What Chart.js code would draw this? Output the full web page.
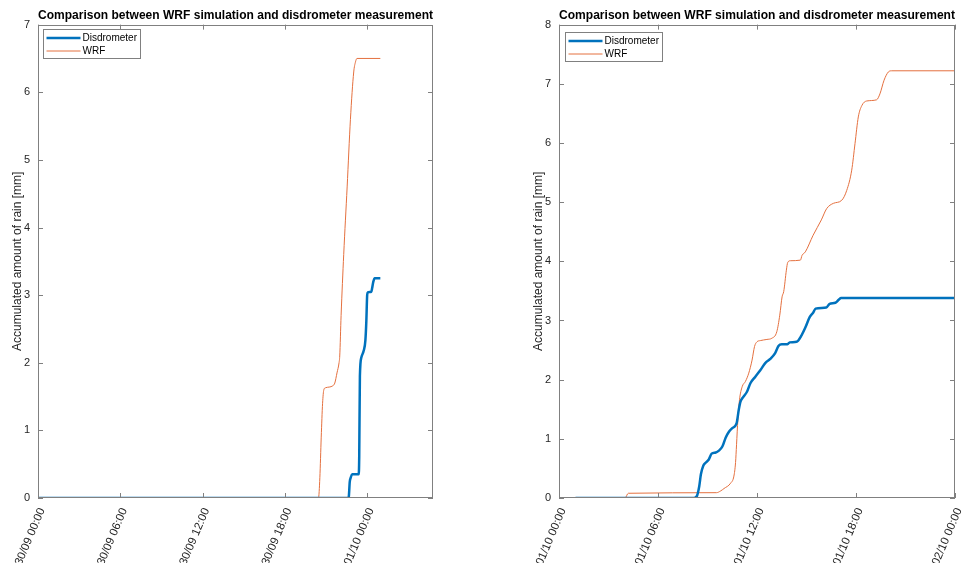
<!DOCTYPE html>
<html>
<head>
<meta charset="utf-8">
<script src="https://cdn.jsdelivr.net/npm/chart.js@4"></script>
<style>
  html, body { margin: 0; padding: 0; background: #fff; }
  body { width: 963px; height: 563px; position: relative; overflow: hidden; }
  canvas { position: absolute; top: 0; }
</style>
</head>
<body>
<canvas id="left" width="480" height="563" style="left:0"></canvas>
<canvas id="right" width="483" height="563" style="left:480px"></canvas>
<script>
// hours since 00:00 of the first day shown, accumulated rain in mm
var leftTickLabels = ["30/09 00:00", "30/09 06:00", "30/09 12:00", "30/09 18:00", "01/10 00:00"];
var rightTickLabels = ["01/10 00:00", "01/10 06:00", "01/10 12:00", "01/10 18:00", "02/10 00:00"];

var leftDisdroHours = [0, 22.6, 22.66, 22.73, 22.8, 22.9, 23.38, 23.42, 23.47, 23.58, 23.75, 23.87, 23.94, 24.0, 24.04, 24.3, 24.36, 24.45, 24.55, 24.96];
var leftDisdroRain = [0, 0, 0.02, 0.24, 0.3, 0.35, 0.35, 0.6, 1.8, 2.08, 2.18, 2.33, 2.62, 3.0, 3.04, 3.05, 3.1, 3.2, 3.25, 3.25];
var leftWrfHours = [0, 20.45, 20.55, 20.65, 20.75, 20.84, 20.96, 21.5, 21.64, 21.8, 21.95, 22.0, 22.1, 22.29, 22.54, 22.78, 23.02, 23.15, 23.26, 24.96];
var leftWrfRain = [0, 0, 0.3, 0.9, 1.4, 1.6, 1.63, 1.66, 1.7, 1.85, 2.0, 2.1, 2.7, 3.6, 4.6, 5.6, 6.3, 6.45, 6.5, 6.5];

var rightDisdroHours = [1.0, 8.15, 8.35, 8.5, 8.6, 8.75, 8.9, 9.08, 9.25, 9.5, 9.69, 9.9, 10.1, 10.3, 10.5, 10.76, 10.9, 11.0, 11.15, 11.4, 11.6, 11.9, 12.2, 12.5, 12.8, 13.1, 13.3, 13.5, 13.85, 13.98, 14.4, 14.7, 14.93, 15.2, 15.4, 15.55, 16.2, 16.4, 16.75, 16.95, 17.1, 17.4, 24];
var rightDisdroRain = [0, 0, 0.03, 0.2, 0.4, 0.55, 0.6, 0.65, 0.75, 0.77, 0.8, 0.87, 1.02, 1.12, 1.18, 1.26, 1.5, 1.63, 1.7, 1.8, 1.94, 2.05, 2.16, 2.28, 2.35, 2.45, 2.57, 2.6, 2.6, 2.63, 2.64, 2.75, 2.88, 3.06, 3.13, 3.2, 3.22, 3.28, 3.3, 3.35, 3.38, 3.38, 3.38];
var rightWrfHours = [1.0, 4.0, 4.2, 9.55, 9.8, 10.0, 10.4, 10.6, 10.7, 10.76, 10.84, 10.94, 11.1, 11.3, 11.5, 11.7, 11.85, 12.0, 12.2, 12.6, 12.9, 13.2, 13.38, 13.52, 13.62, 13.78, 13.86, 14.02, 14.63, 14.73, 14.93, 15.4, 15.9, 16.22, 16.63, 17.13, 17.44, 17.74, 17.94, 18.14, 18.35, 18.65, 19.25, 19.45, 19.7, 19.96, 20.16, 24];
var rightWrfRain = [0, 0, 0.08, 0.09, 0.12, 0.16, 0.25, 0.37, 0.6, 0.9, 1.32, 1.66, 1.88, 1.97, 2.11, 2.33, 2.56, 2.64, 2.66, 2.68, 2.7, 2.81, 3.09, 3.4, 3.49, 3.85, 3.98, 4.01, 4.02, 4.1, 4.16, 4.44, 4.7, 4.89, 4.98, 5.03, 5.2, 5.54, 5.99, 6.44, 6.63, 6.71, 6.73, 6.83, 7.06, 7.2, 7.22, 7.22];

var titleText = "Comparison between WRF simulation and disdrometer measurement";
var yTitle = "Accumulated amount of rain [mm]";

Chart.defaults.font.family = "Arial, 'Liberation Sans', Helvetica, sans-serif";
Chart.defaults.color = "#262626";

function toPoints(xs, ys) {
    return xs.map(function (x, i) { return { x: x, y: ys[i] }; });
}

// MATLAB-like frame: box, inward ticks on all four sides, legend with border
var matlabFrame = {
    id: "matlabFrame",
    afterDraw: function (chart) {
        var ctx = chart.ctx;
        var a = chart.chartArea;
        var xs = chart.scales.x, ys = chart.scales.y;
        ctx.save();
        ctx.strokeStyle = "#808080";
        ctx.lineWidth = 1;
        ctx.strokeRect(Math.round(a.left) + 0.5, Math.round(a.top) + 0.5, Math.round(a.right - a.left) - 1, Math.round(a.bottom - a.top) - 1);
        ctx.beginPath();
        xs.ticks.forEach(function (t) {
            var px = Math.round(xs.getPixelForValue(t.value)) + 0.5;
            ctx.moveTo(px, a.bottom); ctx.lineTo(px, a.bottom - 5);
            ctx.moveTo(px, a.top); ctx.lineTo(px, a.top + 5);
        });
        ys.ticks.forEach(function (t) {
            var py = Math.round(ys.getPixelForValue(t.value)) + 0.5;
            ctx.moveTo(a.left, py); ctx.lineTo(a.left + 5, py);
            ctx.moveTo(a.right, py); ctx.lineTo(a.right - 5, py);
        });
        ctx.stroke();

        var opts = chart.options.plugins.matlabFrame;
        var bx = Math.round(a.left + opts.dx) + 0.5, by = Math.round(a.top + opts.dy) + 0.5;
        ctx.fillStyle = "#fff";
        ctx.fillRect(bx, by, 97, 29);
        ctx.strokeRect(bx, by, 97, 29);
        ctx.font = "10px Arial, 'Liberation Sans', sans-serif";
        ctx.textBaseline = "middle";
        chart.data.datasets.forEach(function (ds, i) {
            var ly = by + 8.5 + i * 13;
            ctx.beginPath();
            ctx.strokeStyle = ds.borderColor;
            ctx.lineWidth = ds.borderWidth;
            ctx.moveTo(bx + 3, ly); ctx.lineTo(bx + 37, ly);
            ctx.stroke();
            ctx.fillStyle = "#000";
            ctx.fillText(ds.label, bx + 39, ly + 0.5);
        });
        ctx.restore();
    }
};

function makeChart(id, disdro, wrf, xMax, yMax, tickLabels, pad, legendPos) {
    return new Chart(document.getElementById(id), {
        type: "line",
        data: {
            datasets: [
                { label: "Disdrometer", data: disdro, borderColor: "#0072BD", borderWidth: 2.5, pointRadius: 0, cubicInterpolationMode: "monotone" },
                { label: "WRF", data: wrf, borderColor: "#E4703F", borderWidth: 1, pointRadius: 0, cubicInterpolationMode: "monotone" }
            ]
        },
        options: {
            responsive: false,
            animation: false,
            layout: { padding: pad },
            plugins: {
                legend: { display: false },
                tooltip: { enabled: false },
                title: {
                    display: true, text: titleText, fullSize: false,
                    font: { size: 12.2, weight: "bold" }, color: "#000",
                    padding: { top: 8, bottom: 2 }
                },
                matlabFrame: legendPos
            },
            scales: {
                x: {
                    type: "linear", min: 0, max: xMax,
                    grid: { display: false, drawTicks: false }, border: { display: false },
                    ticks: {
                        stepSize: 6, includeBounds: false, autoSkip: false,
                        minRotation: 67, maxRotation: 67, padding: 8, labelOffset: 4,
                        font: { size: 11.5 },
                        callback: function (v) {
                            var i = v / 6;
                            return Number.isInteger(i) && tickLabels[i] ? tickLabels[i] : "";
                        }
                    },
                    afterFit: function (s) { s.height = 65; s.paddingLeft = 0; s.paddingRight = 0; }
                },
                y: {
                    min: 0, max: yMax,
                    grid: { display: false, drawTicks: false }, border: { display: false },
                    ticks: { stepSize: 1, padding: 8, font: { size: 11 } },
                    title: { display: true, text: yTitle, font: { size: 12 }, padding: { top: 10, bottom: 0 } },
                    afterFit: function (s) { s.width = 38; }
                }
            }
        },
        plugins: [matlabFrame]
    });
}

makeChart("left", toPoints(leftDisdroHours, leftDisdroRain), toPoints(leftWrfHours, leftWrfRain),
    28.8, 7, leftTickLabels, { left: 0, right: 47, top: 0, bottom: 0 }, { dx: 4.5, dy: 4.5 });
makeChart("right", toPoints(rightDisdroHours, rightDisdroRain), toPoints(rightWrfHours, rightWrfRain),
    24, 8, rightTickLabels, { left: 41, right: 8, top: 0, bottom: 0 }, { dx: 6, dy: 7 });
</script>
</body>
</html>
